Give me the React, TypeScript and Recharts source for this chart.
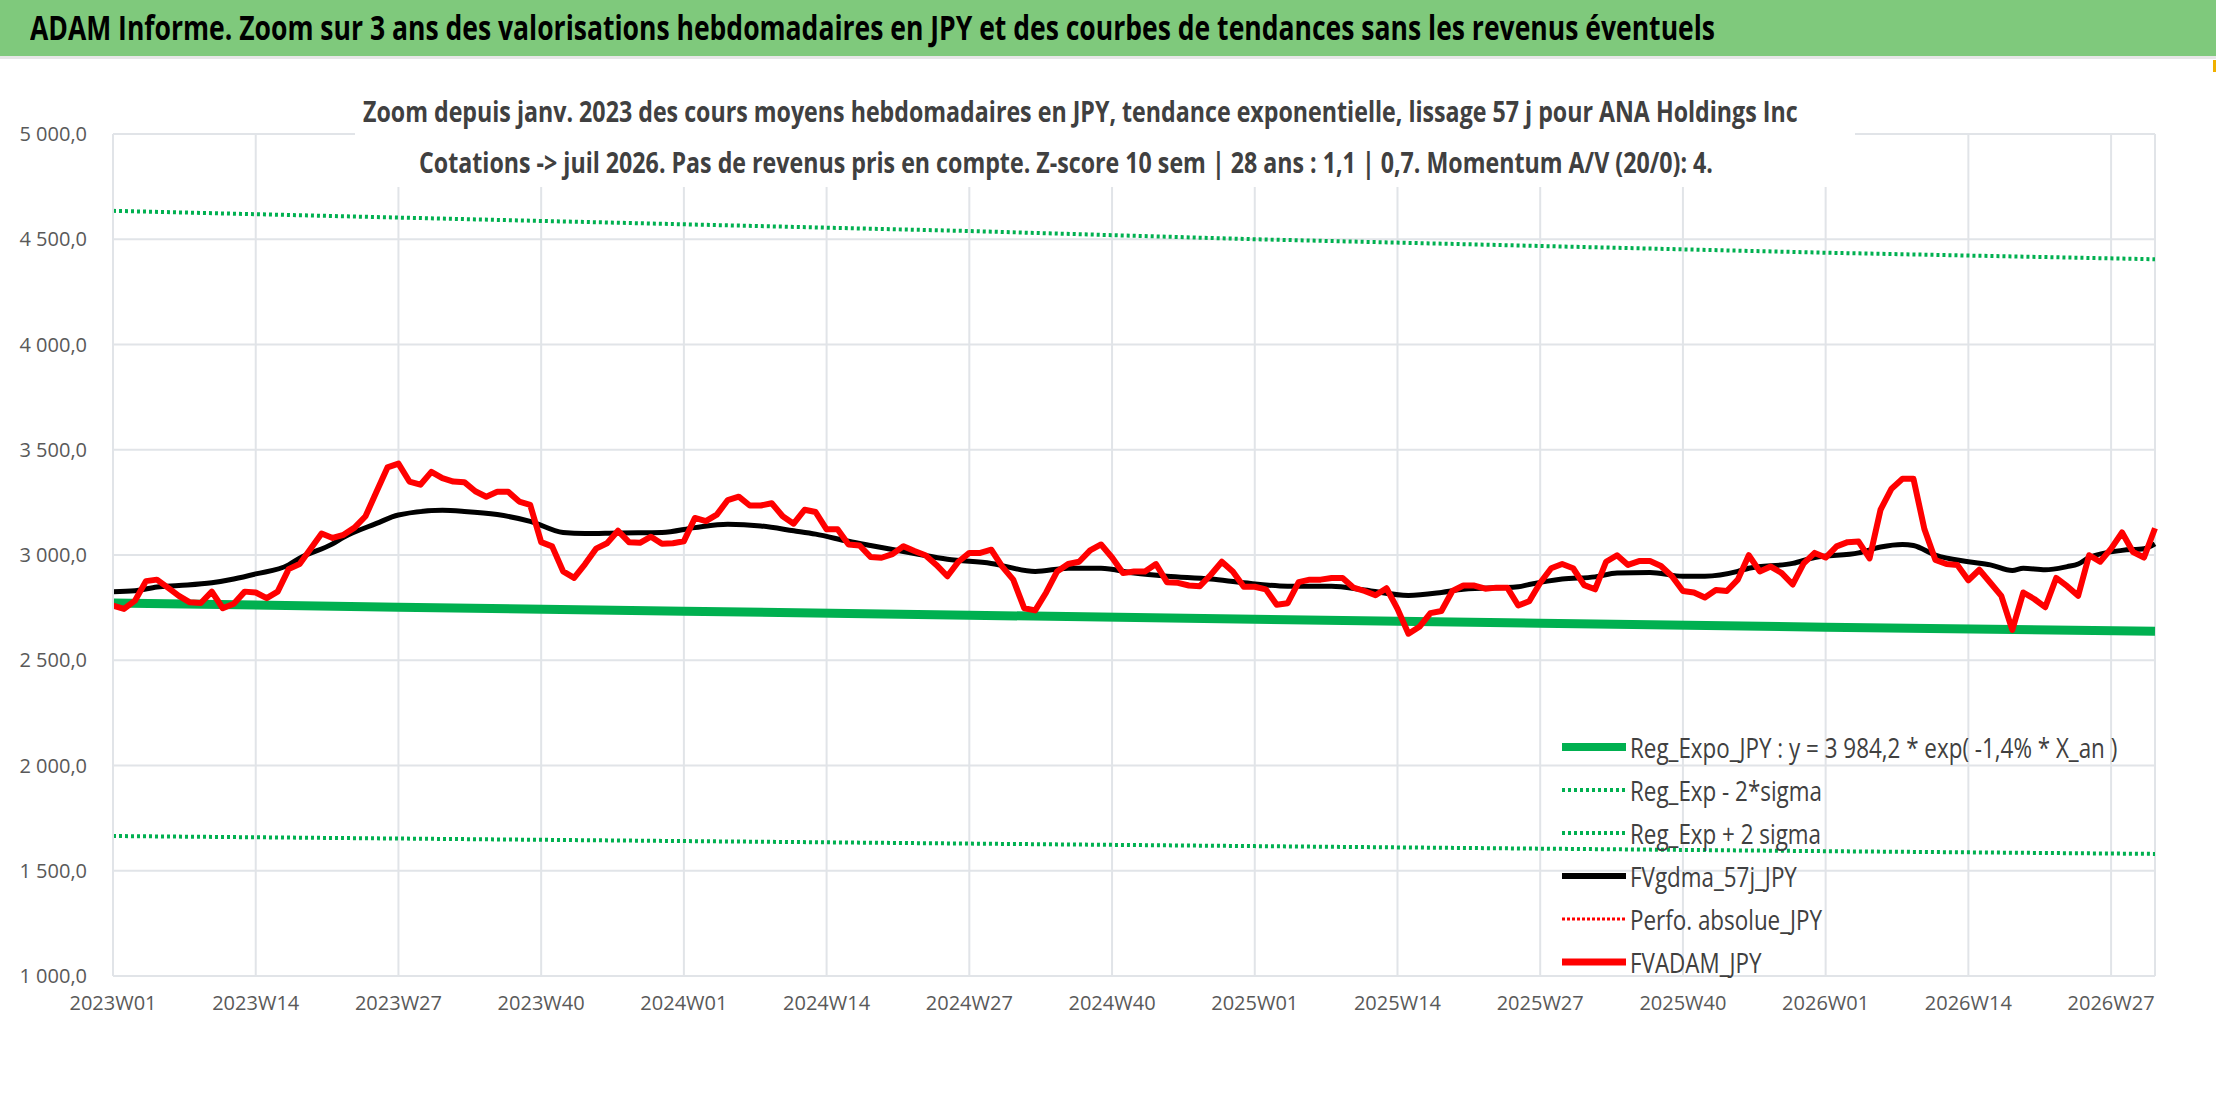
import { LineChart, Line, XAxis, YAxis, CartesianGrid } from 'recharts'

// weekly categories 2023W01 .. 2026W31
const years = [2023, 2024, 2025, 2026]
const weeks: string[] = []
years.forEach((y) => {
  const n = y === 2026 ? 31 : 52
  for (let w = 1; w <= n; w++) weeks.push(`${y}W${String(w).padStart(2, '0')}`)
})

const xTicks = [
  '2023W01', '2023W14', '2023W27', '2023W40', '2024W01', '2024W14', '2024W27',
  '2024W40', '2025W01', '2025W14', '2025W27', '2025W40', '2026W01', '2026W14', '2026W27',
]
const yTicks = [1000, 1500, 2000, 2500, 3000, 3500, 4000, 4500, 5000]

// FVADAM_JPY, one value per week
const fvadam = [
  2760, 2744, 2783, 2876, 2883, 2845, 2806, 2775, 2772, 2826, 2747, 2768, 2826, 2822, 2795, 2826,
  2933, 2957, 3030, 3102, 3081, 3096, 3130, 3184, 3300, 3416, 3434, 3349, 3334, 3395, 3365, 3349,
  3346, 3303, 3277, 3300, 3300, 3254, 3238, 3061, 3041, 2922, 2891, 2957, 3030, 3056, 3115, 3061,
  3058, 3087, 3053, 3056, 3065, 3176, 3161, 3192, 3261, 3277, 3235, 3235, 3246, 3184, 3149, 3215,
  3204, 3122, 3122, 3050, 3045, 2991, 2987, 3004, 3042, 3019, 2999, 2953, 2899, 2968, 3010, 3010,
  3025, 2945, 2883, 2747, 2737, 2822, 2922, 2957, 2968, 3022, 3050, 2988, 2914, 2922, 2922, 2957,
  2871, 2868, 2855, 2852, 2906, 2968, 2922, 2849, 2849, 2837, 2764, 2771, 2871, 2883, 2883, 2891,
  2891, 2845, 2829, 2809, 2842, 2744, 2626, 2659, 2724, 2734, 2829, 2855, 2855, 2840, 2845, 2845,
  2760, 2780, 2868, 2937, 2957, 2937, 2857, 2837, 2968, 2999, 2953, 2971, 2971, 2948, 2899, 2829,
  2822, 2798, 2834, 2829, 2883, 2999, 2922, 2945, 2914, 2860, 2960, 3010, 2988, 3041, 3061, 3064,
  2984, 3215, 3315, 3362, 3362, 3122, 2976, 2957, 2953, 2880, 2930, 2868, 2806, 2644, 2822, 2791,
  2752, 2891, 2852, 2806, 2999, 2968, 3030, 3107, 3014, 2988, 3127,
]

// FVgdma_57j_JPY, read at selected weeks
const smaWeeks = [
  0, 2, 4, 6, 9, 11, 13, 16, 17, 20, 21, 24, 26, 30, 32, 35, 38, 41, 43, 46, 50, 53, 56, 59,
  62, 64, 67, 69, 73, 76, 80, 84, 87, 90, 93, 96, 100, 103, 107, 111, 114, 118, 121, 123, 128, 129,
  132, 135, 137, 140, 143, 145, 148, 149, 153, 155, 159, 161, 163, 164, 166, 169, 171, 173, 174, 176,
  178, 179, 180, 183, 185, 186,
]
const smaVals = [
  2826, 2830, 2848, 2855, 2868, 2886, 2910, 2953, 2985, 3053, 3084, 3150, 3190, 3212, 3207, 3192, 3160, 3107, 3102, 3105, 3107, 3130, 3146, 3138,
  3115, 3099, 3065, 3045, 3007, 2980, 2960, 2922, 2937, 2937, 2914, 2899, 2886, 2868, 2852, 2852, 2834, 2808, 2822, 2837, 2849, 2860,
  2886, 2896, 2914, 2917, 2899, 2899, 2922, 2937, 2960, 2988, 3010, 3038, 3050, 3045, 2999, 2968, 2953, 2926, 2937, 2930,
  2945, 2957, 2988, 3022, 3030, 3053,
]

// regression and +/- 2 sigma bands, read at selected weeks
const regWeeks = [0, 26, 52, 78, 104, 130, 156, 186]
const regVals = [2772, 2752, 2733, 2714, 2695, 2676, 2657, 2638]
const upperVals = [4635, 4603, 4571, 4539, 4500, 4468, 4436, 4405]
const lowerVals = [1665, 1653, 1641, 1629, 1617, 1605, 1593, 1580]

const data = weeks.map((week, i) => {
  const si = smaWeeks.indexOf(i)
  const ri = regWeeks.indexOf(i)
  return {
    week,
    fvadam: fvadam[i] ?? null,
    sma: si >= 0 ? smaVals[si] : null,
    reg: ri >= 0 ? regVals[ri] : null,
    upper: ri >= 0 ? upperVals[ri] : null,
    lower: ri >= 0 ? lowerVals[ri] : null,
  }
})

const fmtY = (v: number) => {
  const s = v.toFixed(0)
  const t = s.length > 3 ? s.slice(0, -3) + ' ' + s.slice(-3) : s
  return `${t},0`
}

const FONT = '"Open Sans", sans-serif'
const GREEN = '#00b050'

const legendItems = [
  { label: 'Reg_Expo_JPY : y = 3 984,2 * exp( -1,4% *  X_an )', color: GREEN, w: 8, dash: '' },
  { label: 'Reg_Exp - 2*sigma', color: GREEN, w: 4, dash: '3 3' },
  { label: 'Reg_Exp + 2 sigma', color: GREEN, w: 4, dash: '3 3' },
  { label: 'FVgdma_57j_JPY', color: '#000', w: 6, dash: '' },
  { label: 'Perfo. absolue_JPY', color: '#ff0000', w: 3, dash: '3 2' },
  { label: 'FVADAM_JPY', color: '#ff0000', w: 7, dash: '' },
]

const narrow = (scale: number): React.CSSProperties => ({
  display: 'inline-block',
  whiteSpace: 'nowrap',
  transform: `scaleX(${scale})`,
  transformOrigin: 'left center',
})

export default function App() {
  return (
    <div style={{ position: 'fixed', left: 0, top: 0, width: 2216, height: 1102, background: '#fff', fontFamily: FONT, overflow: 'hidden' }}>
      <div style={{ position: 'absolute', left: 0, top: 0, width: 2216, height: 56, background: '#7fc97c', borderBottom: '3px solid #e6e6e6' }}>
        <div style={{ position: 'absolute', left: 30, top: 4, fontSize: 34, fontWeight: 'bold', color: '#000' }}>
          <span style={narrow(0.78)}>
            ADAM Informe. Zoom sur 3 ans des valorisations hebdomadaires en JPY et des courbes de tendances sans les revenus éventuels
          </span>
        </div>
      </div>
      <div style={{ position: 'absolute', right: 0, top: 60, width: 3, height: 12, background: '#f0b000' }} />
      <div style={{ position: 'absolute', left: 0, top: 0 }}>
        <LineChart width={2216} height={1102} data={data} margin={{ top: 134, right: 61, bottom: 96, left: 13 }}>
          <CartesianGrid stroke="#e1e4e8" strokeWidth={2} />
          <XAxis
            dataKey="week"
            ticks={xTicks}
            interval={0}
            axisLine={{ stroke: '#e1e4e8', strokeWidth: 2 }}
            tickLine={false}
            tick={{ fontSize: 20, fill: '#595959', fontFamily: FONT }}
            tickMargin={14}
          />
          <YAxis
            domain={[1000, 5000]}
            ticks={yTicks}
            width={100}
            axisLine={{ stroke: '#e1e4e8', strokeWidth: 2 }}
            tickLine={false}
            tickFormatter={fmtY}
            tick={{ fontSize: 20, fill: '#595959', fontFamily: FONT }}
            tickMargin={20}
          />
          <Line dataKey="upper" stroke={GREEN} strokeWidth={4} strokeDasharray="3 3" dot={false} connectNulls isAnimationActive={false} />
          <Line dataKey="lower" stroke={GREEN} strokeWidth={4} strokeDasharray="3 3" dot={false} connectNulls isAnimationActive={false} />
          <Line dataKey="reg" stroke={GREEN} strokeWidth={9} dot={false} connectNulls isAnimationActive={false} />
          <Line type="monotone" dataKey="sma" stroke="#000" strokeWidth={5} dot={false} connectNulls isAnimationActive={false} />
          <Line dataKey="fvadam" stroke="#ff0000" strokeWidth={6} dot={false} strokeLinejoin="round" isAnimationActive={false} />
        </LineChart>
      </div>
      <div style={{ position: 'absolute', left: 355, top: 85, width: 1500, background: '#fff', color: '#404040', fontSize: 29, lineHeight: '51px', fontWeight: 'bold' }}>
        <div style={{ position: 'relative', left: 8 }}>
          <span style={narrow(0.8)}>Zoom depuis janv. 2023 des cours moyens hebdomadaires en JPY, tendance exponentielle, lissage 57 j pour ANA Holdings Inc</span>
        </div>
        <div style={{ position: 'relative', left: 64 }}>
          <span style={narrow(0.8)}>Cotations -&gt; juil 2026. Pas de revenus pris en compte. Z-score 10 sem | 28 ans : 1,1 | 0,7. Momentum A/V (20/0): 4.</span>
        </div>
      </div>
      <div style={{ position: 'absolute', left: 1560, top: 725, color: '#404040', fontSize: 28 }}>
        {legendItems.map((it) => (
          <div key={it.label} style={{ display: 'flex', alignItems: 'center', height: 43 }}>
            <svg width={68} height={12} style={{ marginRight: 2, flex: 'none' }}>
              <line x1={2} y1={6} x2={66} y2={6} stroke={it.color} strokeWidth={it.w} strokeDasharray={it.dash || undefined} />
            </svg>
            <span style={narrow(0.8)}>{it.label}</span>
          </div>
        ))}
      </div>
    </div>
  )
}
